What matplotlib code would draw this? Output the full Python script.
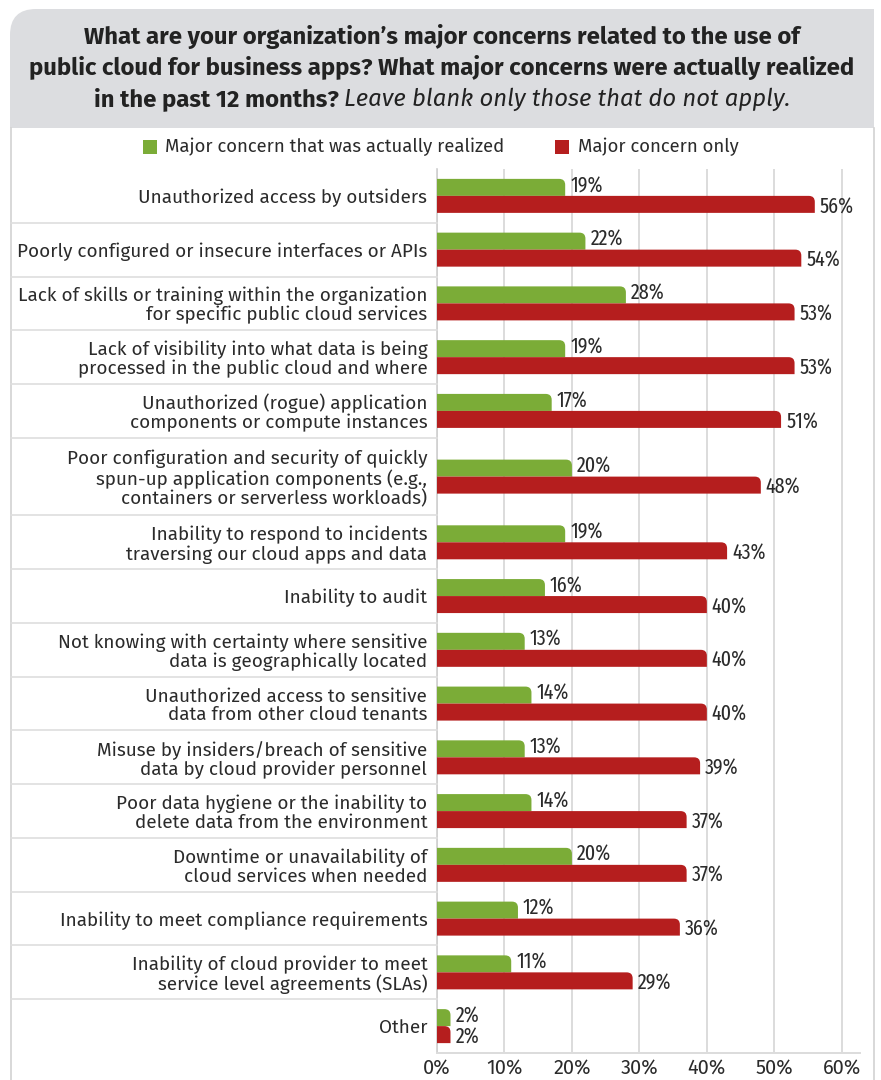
import matplotlib
matplotlib.use("Agg")
import numpy as np
import matplotlib.pyplot as plt
import matplotlib.transforms as mtransforms
from matplotlib import font_manager
from matplotlib.path import Path
from matplotlib.patches import PathPatch, Rectangle
from matplotlib.lines import Line2D

# ---- data ----
categories = [
    "Unauthorized access by outsiders",
    "Poorly configured or insecure interfaces or APIs",
    "Lack of skills or training within the organization\nfor specific public cloud services",
    "Lack of visibility into what data is being\nprocessed in the public cloud and where",
    "Unauthorized (rogue) application\ncomponents or compute instances",
    "Poor configuration and security of quickly\nspun-up application components (e.g.,\ncontainers or serverless workloads)",
    "Inability to respond to incidents\ntraversing our cloud apps and data",
    "Inability to audit",
    "Not knowing with certainty where sensitive\ndata is geographically located",
    "Unauthorized access to sensitive\ndata from other cloud tenants",
    "Misuse by insiders/breach of sensitive\ndata by cloud provider personnel",
    "Poor data hygiene or the inability to\ndelete data from the environment",
    "Downtime or unavailability of\ncloud services when needed",
    "Inability to meet compliance requirements",
    "Inability of cloud provider to meet\nservice level agreements (SLAs)",
    "Other",
]
realized = [19, 22, 28, 19, 17, 20, 19, 16, 13, 14, 13, 14, 20, 12, 11, 2]
concern_only = [56, 54, 53, 53, 51, 48, 43, 40, 40, 40, 39, 37, 37, 36, 29, 2]
xticks = [0, 10, 20, 30, 40, 50, 60]
legend_labels = ["Major concern that was actually realized", "Major concern only"]
title_lines = [
    "What are your organization\u2019s major concerns related to the use of",
    "public cloud for business apps? What major concerns were actually realized",
]
title_last_bold = "in the past 12 months?"
title_last_italic = "Leave blank only those that do not apply."

GREEN = "#7bac37"
RED = "#b51e1e"
TXT = "#2b2b2b"
GRID = "#dcdcdc"
HEADER = "#dcdde0"
BORDER = "#d2d2d2"

installed = {f.name for f in font_manager.fontManager.ttflist}


def pick(*names):
    for n in names:
        if n in installed:
            return n
    return "DejaVu Sans"


TITLE_FONT = pick("Fira Sans", "Roboto", "Open Sans")
LABEL_FONT = pick("Fira Sans", "Open Sans", "Noto Sans")
NARROW_FONT = pick("Fira Sans Extra Condensed", "Fira Sans Condensed", "Roboto Condensed",
                   "Liberation Sans Narrow")
if NARROW_FONT == "DejaVu Sans":
    NARROW_FONT = LABEL_FONT

W, H = 881, 1080
fig = plt.figure(figsize=(W / 100, H / 100), dpi=100)
renderer = fig.canvas.get_renderer()
# pixel coordinates, origin at top-left
pix = mtransforms.Affine2D().scale(1, -1).translate(0, H)


def text_width(s, **kw):
    t = fig.text(0, 0, s, **kw)
    w = t.get_window_extent(renderer).width
    t.remove()
    return w


def fit(s, target, **kw):
    return 20 * target / text_width(s, fontsize=20, **kw)


# ---- header and frame ----
hx0, hy0, hx1, hy1, rad = 10, 9, 874, 128, 26
hdr = Path([(hx0, hy1), (hx0, hy0 + rad), (hx0, hy0), (hx0 + rad, hy0),
            (hx1, hy0), (hx1, hy1), (hx0, hy1)],
           [Path.MOVETO, Path.LINETO, Path.CURVE3, Path.CURVE3,
            Path.LINETO, Path.LINETO, Path.CLOSEPOLY])
fig.patches.append(PathPatch(hdr, transform=pix, facecolor=HEADER, edgecolor="none"))
for xx in (11, 874):
    fig.lines.append(Line2D([xx, xx], [hy1, H], transform=pix, color=BORDER, lw=1.2))

# ---- title ----
tsize = fit(title_lines[1], 827, family=TITLE_FONT, weight="bold")
tkw = dict(family=TITLE_FONT, weight="bold", fontsize=tsize, color="#222222")
baselines = [44, 75, 106]
for line, yb in zip(title_lines, baselines):
    fig.text(442, yb, line, transform=pix, ha="center", va="baseline", **tkw)
ikw = dict(family=TITLE_FONT, style="italic", fontsize=tsize, color="#222222")
wb = text_width(title_last_bold, **tkw)
wi = text_width(title_last_italic, **ikw)
sp = text_width("a a", **tkw) - text_width("aa", **tkw)
x_start = 442 - (wb + sp + wi) / 2
fig.text(x_start, baselines[2], title_last_bold, transform=pix, ha="left", va="baseline", **tkw)
fig.text(x_start + wb + sp, baselines[2], title_last_italic, transform=pix,
         ha="left", va="baseline", **ikw)

# ---- legend ----
lsize = fit(legend_labels[0], 340, family=LABEL_FONT)
for (sx, tx), lab, col in zip([(143, 165), (555, 578)], legend_labels, [GREEN, RED]):
    fig.patches.append(Rectangle((sx, 140), 14, 14, transform=pix, facecolor=col, edgecolor="none"))
    fig.text(tx, 147, lab, transform=pix, ha="left", va="center",
             family=LABEL_FONT, fontsize=lsize, color=TXT)

# ---- axes ----
ax_l, ax_t, ax_r, ax_b = 437, 169, 860, 1053
ax = fig.add_axes([ax_l / W, 1 - ax_b / H, (ax_r - ax_l) / W, (ax_b - ax_t) / H])
heights = np.array([78 if c.count("\n") >= 2 else 54 for c in categories], dtype=float)
bounds = np.concatenate([[0], np.cumsum(heights)])
centers = (bounds[:-1] + bounds[1:]) / 2
ax.set_xlim(0, 62.7)
ax.set_ylim(bounds[-1], 0)

bbox = ax.get_window_extent(renderer)
pxx = bbox.width / 62.7
pxy = bbox.height / bounds[-1]

bh = 17 / pxy
gbars = ax.barh(centers - bh / 2, realized, height=bh, color=GREEN, zorder=3)
rbars = ax.barh(centers + bh / 2, concern_only, height=bh, color=RED, zorder=3)


def round_top_right(bar, r_px=6):
    x0, y0 = bar.get_x(), bar.get_y()
    x1, y1 = x0 + bar.get_width(), y0 + bar.get_height()
    rx, ry = min(r_px / pxx, bar.get_width()), r_px / pxy
    p = Path([(x0, y1), (x0, y0), (x1 - rx, y0), (x1, y0), (x1, y0 + ry), (x1, y1), (x0, y1)],
             [Path.MOVETO, Path.LINETO, Path.LINETO, Path.CURVE3, Path.CURVE3,
              Path.LINETO, Path.CLOSEPOLY])
    ax.add_patch(PathPatch(p, facecolor=bar.get_facecolor(), edgecolor="none", zorder=3))
    bar.remove()


for b in list(gbars) + list(rbars):
    round_top_right(b)

vsize = fit("56%", 28, family=NARROW_FONT) * 1.22
off = 5 / pxx
for yc, v in zip(centers, realized):
    ax.text(v + off, yc - bh / 2 - 1.5 / pxy, f"{v}%", va="center", ha="left",
            family=NARROW_FONT, fontsize=vsize, color=TXT)
for yc, v in zip(centers, concern_only):
    ax.text(v + off, yc + bh / 2 + 2.5 / pxy, f"{v}%", va="center", ha="left",
            family=NARROW_FONT, fontsize=vsize, color=TXT)

# category labels and x ticks
csize = fit(categories[0], 290, family=LABEL_FONT)
ax.set_yticks(centers)
ax.set_yticklabels(categories, family=LABEL_FONT, fontsize=csize, color=TXT, linespacing=1.05)
ax.tick_params(axis="y", length=0, pad=7)
xsize = fit("10%", 36, family=LABEL_FONT)
ax.set_xticks(xticks)
ax.set_xticklabels([f"{t}%" for t in xticks], family=LABEL_FONT, fontsize=xsize, color=TXT)
ax.tick_params(axis="x", length=0, pad=4)

ax.grid(axis="x", color=GRID, lw=1.4, zorder=0)
ax.set_axisbelow(True)
for s in ("top", "right"):
    ax.spines[s].set_visible(False)
ax.spines["left"].set_color("#cfcfcf")
ax.spines["bottom"].set_color(GRID)
ax.spines["left"].set_linewidth(1.2)
ax.spines["bottom"].set_linewidth(1.4)

# row separators in the label column
row_tf = mtransforms.blended_transform_factory(pix, ax.transData)
for yb in bounds[1:-1]:
    fig.lines.append(Line2D([11, ax_l], [yb, yb], transform=row_tf, color="#dedede", lw=1.2))

fig.savefig("out.png", dpi=100)
